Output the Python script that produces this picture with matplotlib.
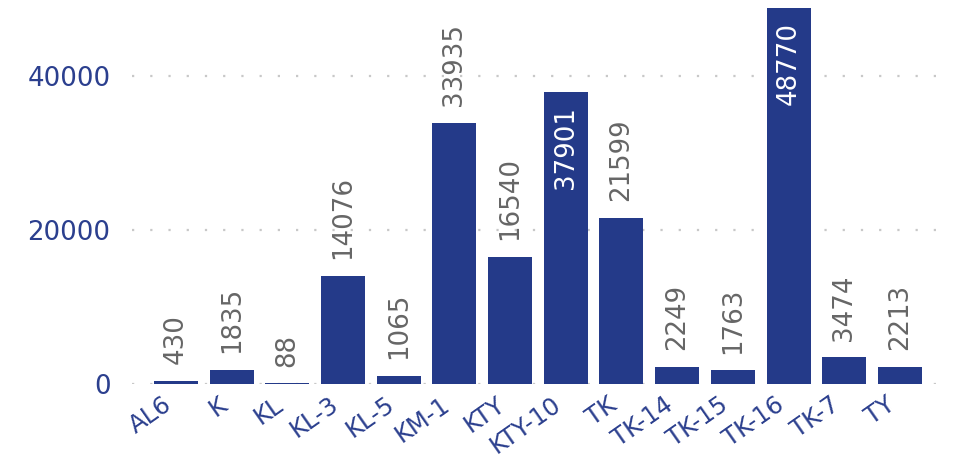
import matplotlib
matplotlib.use("Agg")
import matplotlib.pyplot as plt
import matplotlib.transforms as mtransforms

categories = ["AL6", "K", "KL", "KL-3", "KL-5", "KM-1", "KTY", "KTY-10",
              "TK", "TK-14", "TK-15", "TK-16", "TK-7", "TY"]
values = [430, 1835, 88, 14076, 1065, 33935, 16540, 37901,
          21599, 2249, 1763, 48770, 3474, 2213]
yticks = [0, 20000, 40000]

bar_color = "#243a89"
text_blue = "#2b3f8e"
label_gray = "#666666"
fs = 18.7

fig = plt.figure(figsize=(9.55, 4.59), dpi=100)
ax = fig.add_axes([132/955, (459-384)/459, (940-132)/955, (384-7)/459])

x = list(range(len(categories)))
ax.bar(x, values, width=0.79, color=bar_color, zorder=3)

ax.set_xlim(-0.79, len(categories) - 1 + 0.72)
ax.set_ylim(0, 48950)
ax.set_yticks(yticks)
ax.set_yticklabels([str(v) for v in yticks])
ax.set_xticks(x)
ax.set_xticklabels(categories, rotation=35, ha="right", rotation_mode="anchor")

for s in ax.spines.values():
    s.set_visible(False)
ax.tick_params(axis="both", length=0, labelsize=fs, labelcolor=text_blue)
ax.tick_params(axis="y", pad=15.5)
ax.tick_params(axis="x", pad=6, labelsize=17.5)
ax.grid(axis="y", color="#c8c8c8", linestyle=(0, (1, 7.2)), linewidth=1.6, zorder=0)
ax.set_axisbelow(True)

shift = mtransforms.ScaledTranslation(-14/100, 0, fig.dpi_scale_trans)
for lbl in ax.get_xticklabels():
    lbl.set_transform(lbl.get_transform() + shift)

for xi, v in zip(x, values):
    if v > 36000:
        ax.annotate(str(v), (xi, v), xytext=(0, -10), textcoords="offset points",
                    rotation=90, ha="center", va="top", color="white",
                    fontsize=fs, zorder=4)
    else:
        ax.annotate(str(v), (xi, v), xytext=(0, 12), textcoords="offset points",
                    rotation=90, ha="center", va="bottom", color=label_gray,
                    fontsize=fs, zorder=4)

fig.savefig("out.png", dpi=100)
